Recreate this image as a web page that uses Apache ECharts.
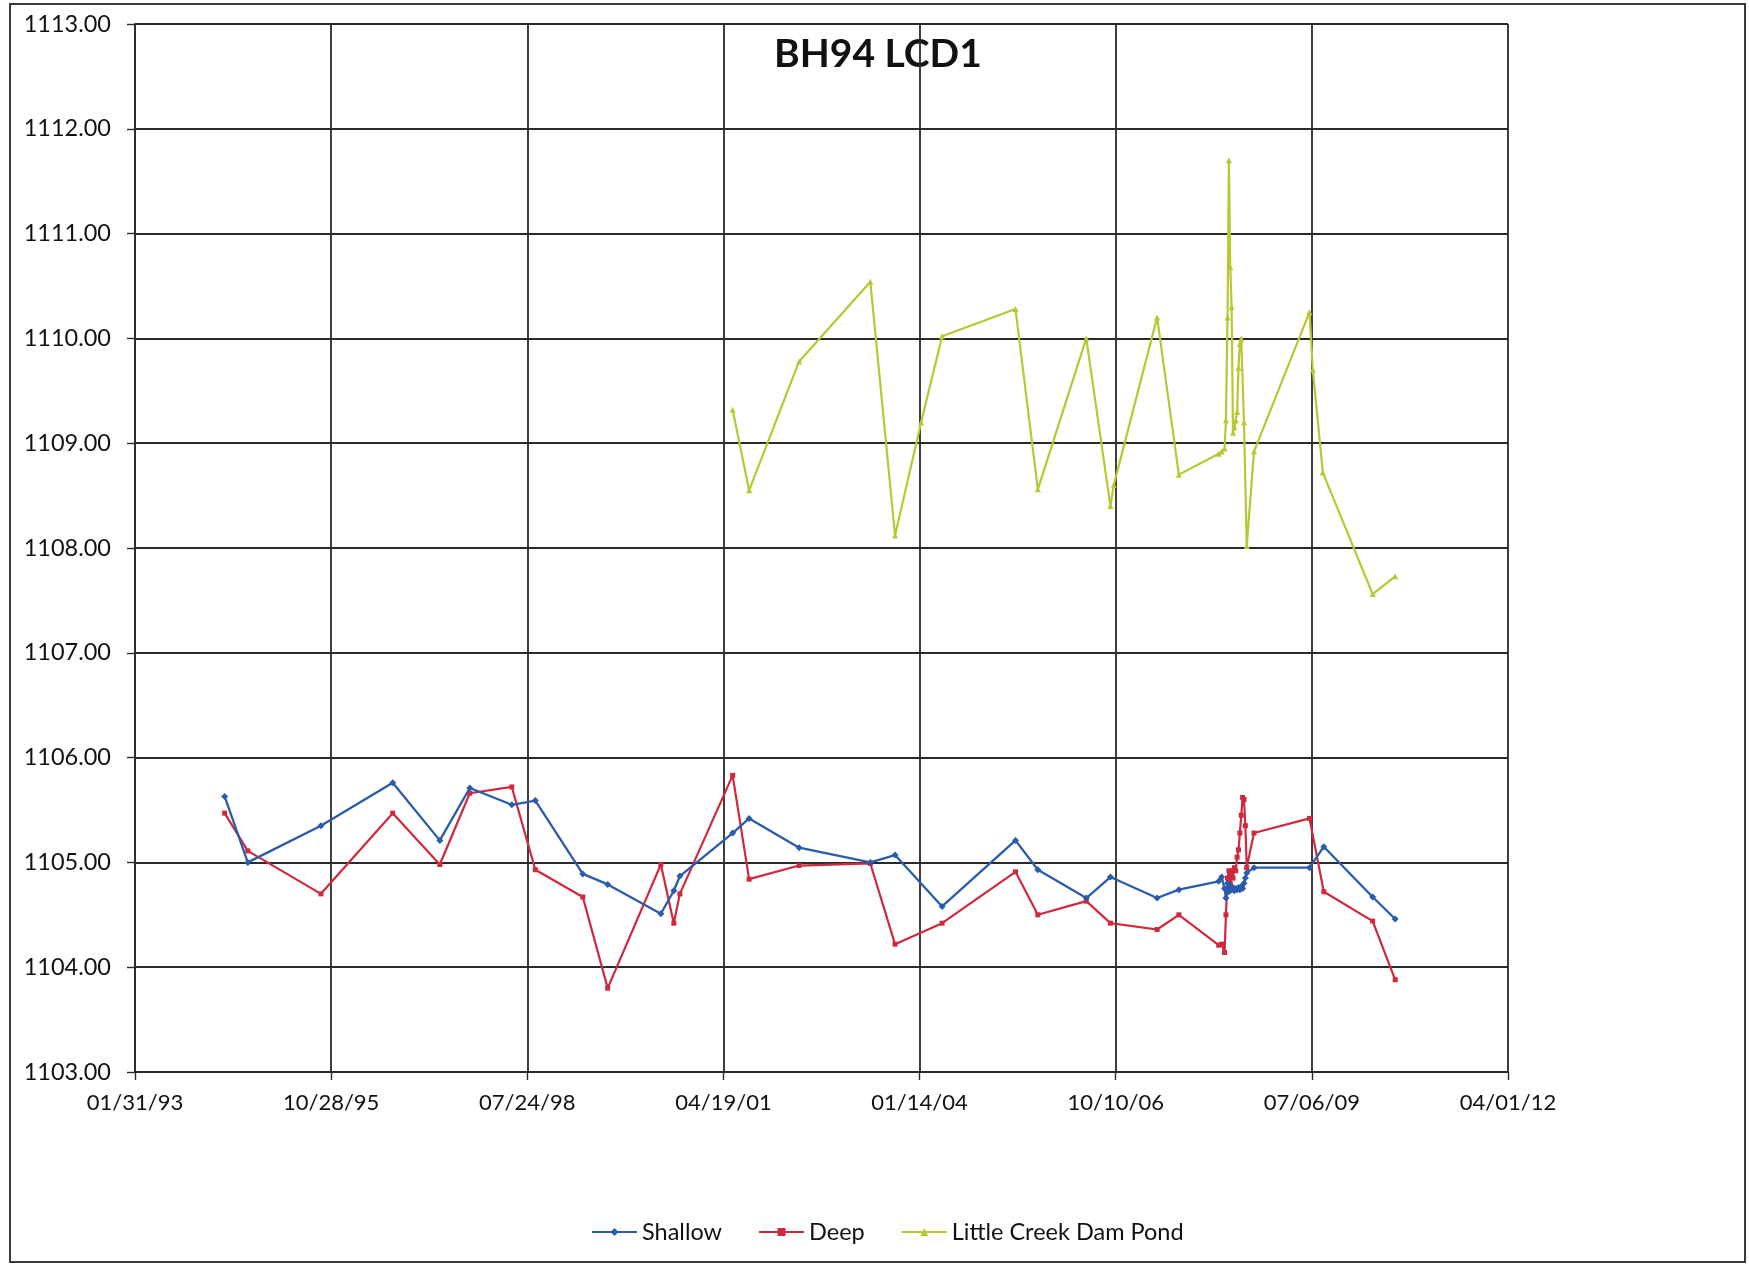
<!DOCTYPE html>
<html>
<head>
<meta charset="utf-8">
<script src="https://cdn.jsdelivr.net/npm/echarts@6/dist/echarts.min.js"></script>
<style>
html,body{margin:0;padding:0;background:#fff;}
#chart{width:1749px;height:1266px;}
</style>
</head>
<body>
<div id="chart"></div>
<script>
// Dates are Excel date serials (days since 1899-12-30)
var shallowDates = [34457,34575,34948,35314,35554,35707,35921,36041,36283,36410,36681,36747,36778,37047,37131,37386,37749,37875,38115,38489,38603,38850,38973,39211,39322,
  39525,39540,39555,39562,39570,39577,39584,39591,39598,39605,39612,39619,39626,39633,39640,39647,39654,39661,39668,39705,39988,40061,40310,40425];
var shallowValues = [1105.63,1105.00,1105.35,1105.76,1105.21,1105.71,1105.55,1105.59,1104.89,1104.79,1104.51,1104.73,1104.87,1105.28,1105.42,1105.14,1105.00,1105.07,1104.58,1105.21,1104.93,1104.66,1104.86,1104.66,1104.74,
  1104.82,1104.86,1104.75,1104.66,1104.80,1104.72,1104.78,1104.74,1104.76,1104.73,1104.75,1104.74,1104.76,1104.74,1104.77,1104.75,1104.80,1104.85,1104.90,1104.95,1104.95,1105.15,1104.67,1104.46];

var deepDates = shallowDates;
var deepValues = [1105.47,1105.11,1104.70,1105.47,1104.98,1105.66,1105.72,1104.93,1104.67,1103.80,1104.98,1104.42,1104.70,1105.83,1104.84,1104.97,1104.99,1104.22,1104.42,1104.91,1104.50,1104.63,1104.42,1104.36,1104.50,
  1104.21,1104.22,1104.14,1104.50,1104.85,1104.92,1104.80,1104.92,1104.85,1104.95,1104.92,1105.05,1105.12,1105.28,1105.45,1105.62,1105.60,1105.35,1104.95,1105.28,1105.42,1104.72,1104.44,1103.88];

var pondDates = [37047,37131,37386,37749,37875,38008,38115,38489,38603,38850,38973,38990,39211,39322,
  39525,39540,39555,39562,39570,39577,39584,39591,39598,39605,39612,39619,39626,39633,39640,39654,39668,39705,39988,40005,40056,40310,40425];
var pondValues = [1109.32,1108.55,1109.78,1110.54,1108.12,1109.20,1110.02,1110.28,1108.56,1110.00,1108.40,1108.60,1110.20,1108.70,
  1108.90,1108.92,1108.95,1109.22,1110.20,1111.70,1110.68,1110.30,1109.10,1109.15,1109.22,1109.30,1109.72,1109.95,1110.00,1109.20,1108.02,1108.92,1110.25,1109.70,1108.72,1107.56,1107.73];

var seriesNames = ['Shallow','Deep','Little Creek Dam Pond'];
var chartTitle = 'BH94 LCD1';

function pairs(xs, ys){ return xs.map(function(x,i){ return [x, ys[i]]; }); }
function pad(n){ return (n<10?'0':'')+n; }
function serialToLabel(v){
  var d = new Date(Date.UTC(1899,11,30) + v*86400000);
  return pad(d.getUTCMonth()+1)+'/'+pad(d.getUTCDate())+'/'+pad(d.getUTCFullYear()%100);
}

var FONT = 'Lato';
var chart = echarts.init(document.getElementById('chart'), null, {renderer:'canvas'});
var gridColor = '#2a2a2a';

chart.setOption({
  backgroundColor:'#ffffff',
  animation:false,
  textStyle:{fontFamily:FONT},
  graphic:[
    {type:'rect', shape:{x:10,y:4,width:1735,height:1258}, style:{fill:'none', stroke:'#3a3a3a', lineWidth:2}, z:-1},
    {type:'text', style:{text:chartTitle, x:878, y:54, textAlign:'center', textVerticalAlign:'middle', font:'bold 39px Lato', fill:'#111'}}
  ],
  grid:{left:135, right:241, top:24, bottom:194, containLabel:false},
  xAxis:{
    type:'value', min:34000, max:41000, interval:1000,
    axisLine:{show:true, lineStyle:{color:gridColor, width:1.8}},
    axisTick:{show:true, inside:false, length:8, lineStyle:{color:gridColor, width:1.4}},
    axisLabel:{formatter:serialToLabel, fontSize:22, color:'#111', margin:20, fontFamily:FONT},
    splitLine:{show:true, lineStyle:{color:gridColor, width:1.8}}
  },
  yAxis:{
    type:'value', min:1103, max:1113, interval:1,
    axisLine:{show:true, lineStyle:{color:gridColor, width:1.8}},
    axisTick:{show:true, inside:false, length:8, lineStyle:{color:gridColor, width:1.4}},
    axisLabel:{formatter:function(v){return v.toFixed(2);}, fontSize:23.5, color:'#111', margin:24, fontFamily:FONT},
    splitLine:{show:true, lineStyle:{color:gridColor, width:1.8}}
  },
  legend:{
    left:586, top:1215, itemWidth:45, itemHeight:10, itemGap:36,
    textStyle:{fontSize:23.5, color:'#111', fontFamily:FONT},
    data:seriesNames
  },
  series:[
    {name:seriesNames[0], type:'line', data:pairs(shallowDates, shallowValues), symbol:'diamond', symbolSize:7,
     lineStyle:{color:'#2a5caa', width:2.3}, itemStyle:{color:'#2a5caa'}, z:4},
    {name:seriesNames[1], type:'line', data:pairs(deepDates, deepValues), symbol:'rect', symbolSize:5,
     lineStyle:{color:'#d0283c', width:2.2}, itemStyle:{color:'#d0283c'}, z:3},
    {name:seriesNames[2], type:'line', data:pairs(pondDates, pondValues), symbol:'triangle', symbolSize:6,
     lineStyle:{color:'#b8c832', width:2.2}, itemStyle:{color:'#b8c832'}, z:2}
  ]
});
</script>
</body>
</html>
